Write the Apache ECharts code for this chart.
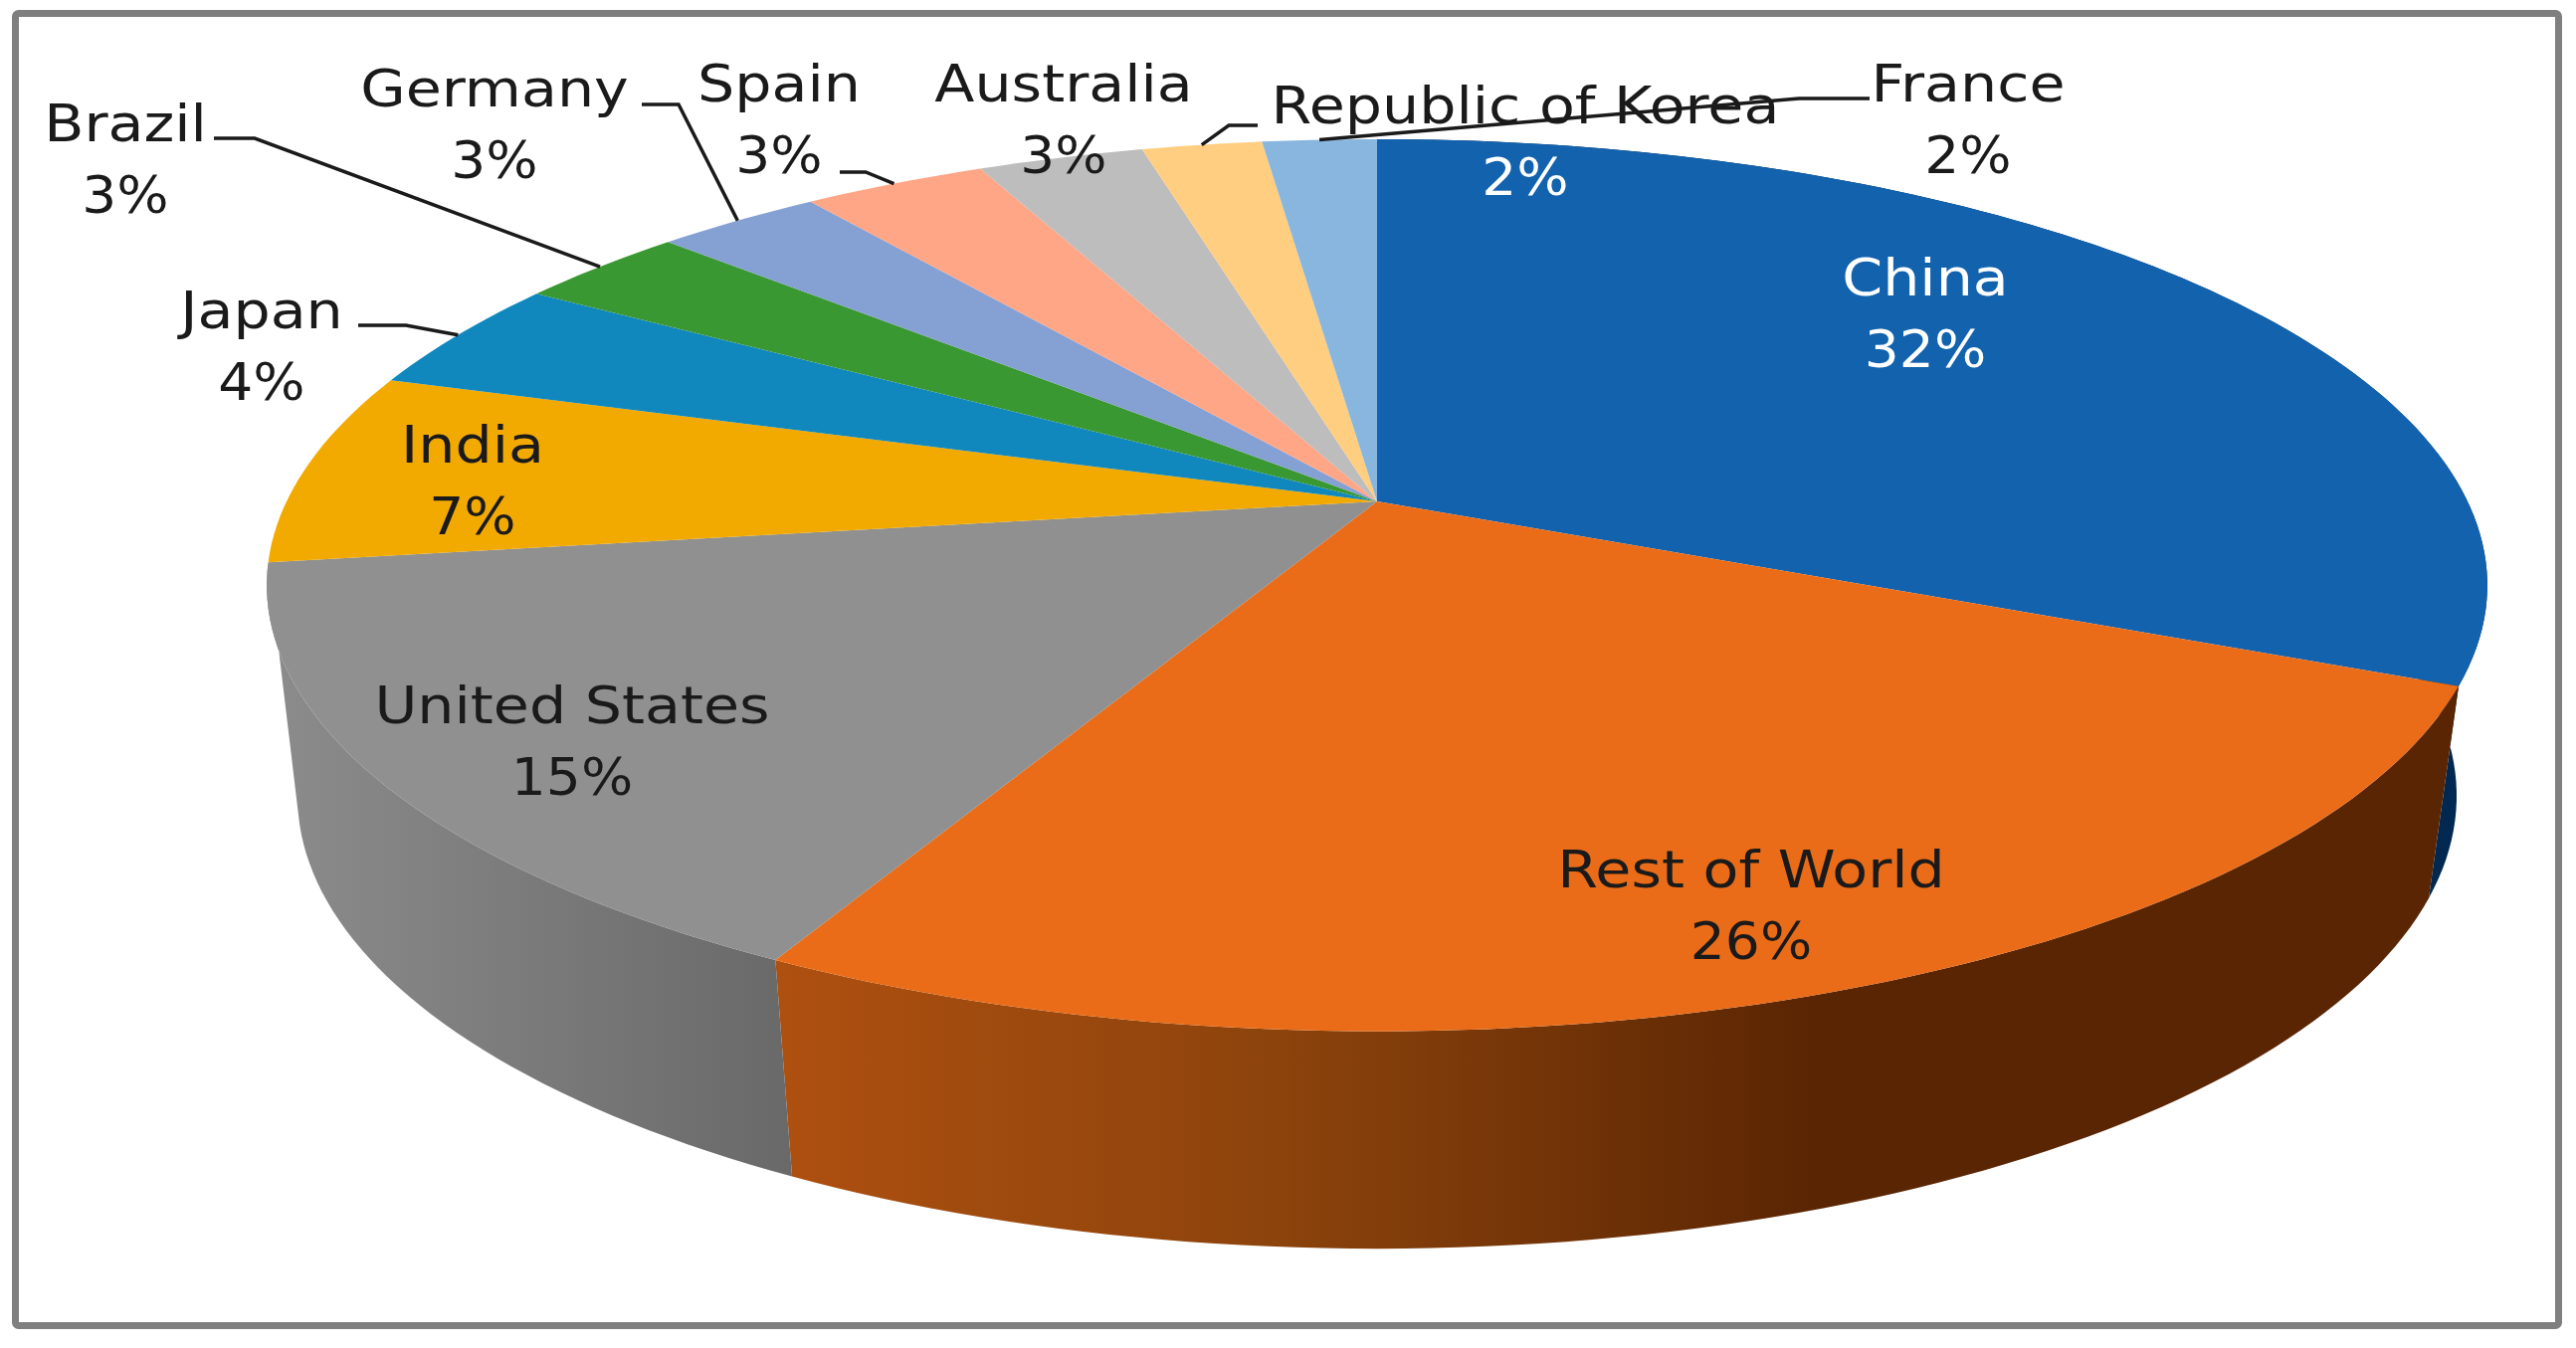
<!DOCTYPE html>
<html>
<head>
<meta charset="utf-8">
<title>Share by country</title>
<style>
  html, body { margin: 0; padding: 0; background: #fff; }
  #chart { width: 2589px; height: 1355px; }
</style>
</head>
<body>
<div id="chart"></div>
<script src="https://cdn.jsdelivr.net/npm/echarts@6/dist/echarts.min.js"></script>
<script>
// 数据
const countries = ['China', 'Rest of World', 'United States', 'India', 'Japan', 'Brazil', 'Germany', 'Spain', 'Australia', 'Republic of Korea', 'France']
const shares = [31.5, 26.1, 15.2, 7.0, 4.1, 3.0, 2.9, 3.2, 2.9, 2.1, 2.0]

// 样式
const topColors = ['#1262ae', '#ea6c18', '#909090', '#f2aa00', '#1088bd', '#3a9833', '#85a0d3', '#ffa687', '#bdbdbd', '#ffce80', '#88b6de']
const sideStops = {
  0: [[0, '#002850'], [1, '#002850']],
  1: [[0, '#ae5010'], [0.3, '#8c430c'], [0.62, '#5a2503'], [1, '#5a2503']],
  2: [[0, '#8c8c8c'], [1, '#696969']],
}
const nameColors = ['#fff', '#1a1a1a', '#1a1a1a', '#1a1a1a', '#1a1a1a', '#1a1a1a', '#1a1a1a', '#1a1a1a', '#1a1a1a', '#1a1a1a', '#1a1a1a']
const pctColors = ['#fff', '#1a1a1a', '#1a1a1a', '#1a1a1a', '#1a1a1a', '#1a1a1a', '#1a1a1a', '#1a1a1a', '#1a1a1a', '#fff', '#1a1a1a']

// 标签中心位置（手工摆放）
const labelAt = [[1935, 320], [1760, 915], [575, 750], [475, 488], [263, 353], [126, 165], [497, 130], [783, 125], [1069, 125], [1533, 147], [1978, 125]]
// 引导线折点
const leaderElbows = {
  4: [[360, 327], [408, 327]],
  5: [[215, 139], [256, 139]],
  6: [[645, 105], [682, 105]],
  7: [[844, 173], [870, 173]],
  9: [[1264, 126], [1235, 126]],
  10: [[1879, 99], [1808, 99]],
}

// 透视投影：顶面和底面各一个椭圆
const cx = 1384
const persp = 0.188
const topFace = { cy: 504, rx: 1096, ry: 432.5 }
const botFace = { cy: 714.5, rx: 1065.7, ry: 439 }
// 左侧轮廓切点，底面弧线到这里为止
const leftTangent = 0.71

const project = (frac, face) => {
  const a = frac * Math.PI * 2
  const u = Math.sin(a)
  const v = Math.cos(a)
  const w = 1 + persp * v
  return [cx + (face.rx * u) / w, face.cy - (face.ry * v) / w]
}
const rimArc = (from, to, face) => {
  const n = Math.max(2, Math.ceil((to - from) * 300))
  const pts = []
  for (let i = 0; i <= n; i++) {
    pts.push(project(from + ((to - from) * i) / n, face))
  }
  return pts
}

const total = shares.reduce((a, b) => a + b, 0)
let run = 0
const sliceData = shares.map((v, i) => {
  const start = run / total
  run += v
  return [i, start, run / total, v]
})

const renderSide = (params, api) => {
  const i = api.value(0)
  const stops = sideStops[i]
  if (!stops) return { type: 'group', children: [] }
  const start = api.value(1)
  const end = api.value(2)
  const botEnd = Math.min(end, leftTangent)
  const pts = rimArc(start, end, topFace).concat(rimArc(start, botEnd, botFace).reverse())
  return {
    type: 'polygon',
    shape: { points: pts },
    style: {
      fill: new echarts.graphic.LinearGradient(0, 0, 1, 0, stops.map(s => ({ offset: s[0], color: s[1] }))),
    },
  }
}

const renderTop = (params, api) => {
  const start = api.value(1)
  const end = api.value(2)
  return {
    type: 'polygon',
    shape: { points: [[cx, topFace.cy]].concat(rimArc(start, end, topFace)) },
    style: { fill: topColors[api.value(0)] },
  }
}

const textEl = (text, x, y, fill, stretch) => ({
  type: 'text',
  x,
  y,
  scaleX: stretch,
  style: {
    text,
    fill,
    font: '51px "DejaVu Sans"',
    align: 'center',
    verticalAlign: 'middle',
  },
})

const renderLabel = (params, api) => {
  const i = api.value(0)
  const [x, y] = labelAt[i]
  const children = []
  if (leaderElbows[i]) {
    const tip = project((api.value(1) + api.value(2)) / 2, topFace)
    children.push({
      type: 'polyline',
      shape: { points: leaderElbows[i].concat([tip]) },
      style: { fill: 'none', stroke: '#1a1a1a', lineWidth: 3.5 },
    })
  }
  children.push(textEl(countries[i], x, y - 36, nameColors[i], 1.15))
  children.push(textEl(Math.round(api.value(3)) + '%', x, y + 36, pctColors[i], 1.08))
  return { type: 'group', children }
}

const chart = echarts.init(document.getElementById('chart'))
const option = {
  animation: false,
  backgroundColor: '#fff',
  graphic: [
    {
      type: 'rect',
      shape: { x: 15.5, y: 13.5, width: 2556, height: 1319, r: 3 },
      style: { fill: 'none', stroke: '#7f7f7f', lineWidth: 7 },
      silent: true,
    },
  ],
  series: [
    { type: 'custom', coordinateSystem: 'none', renderItem: renderSide, data: sliceData, z: 1, silent: true },
    { type: 'custom', coordinateSystem: 'none', renderItem: renderTop, data: sliceData, z: 2, silent: true },
    { type: 'custom', coordinateSystem: 'none', renderItem: renderLabel, data: sliceData, z: 3, silent: true },
  ],
}
chart.setOption(option)
</script>
</body>
</html>
